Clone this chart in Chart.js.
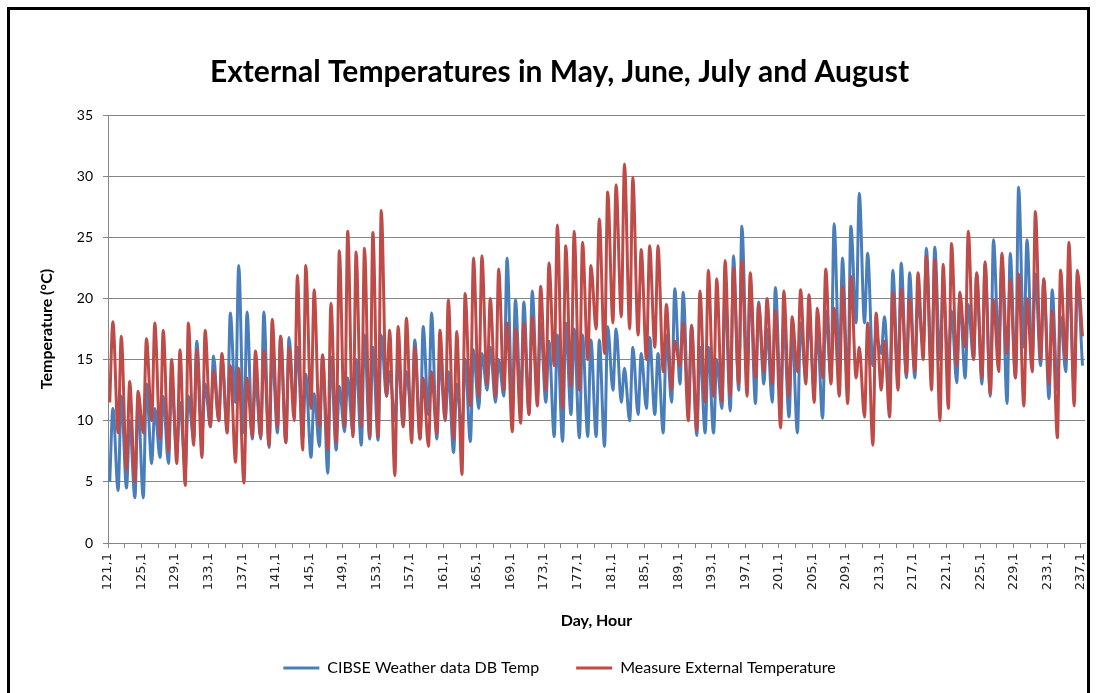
<!DOCTYPE html>
<html><head><meta charset="utf-8">
<script src="https://cdn.jsdelivr.net/npm/chart.js@4.4.1/dist/chart.umd.min.js"></script>
<style>
html,body{margin:0;padding:0;background:#fff;width:1101px;height:693px;overflow:hidden;}
#frame{position:absolute;left:7px;top:7px;width:1083px;height:800px;border:3px solid #000;box-sizing:border-box;}
#wrap{position:absolute;left:0;top:0;width:1101px;height:693px;}
</style></head><body>
<div id="frame"></div>
<div id="wrap"><canvas id="c" width="1101" height="693"></canvas></div>
<script>
// Day numbers (one min and one max reading per day)
const days = [121,122,123,124,125,126,127,128,129,130,131,132,133,134,135,136,137,138,139,140,
141,142,143,144,145,146,147,148,149,150,151,152,153,154,155,156,157,158,159,160,
161,162,163,164,165,166,167,168,169,170,171,172,173,174,175,176,177,178,179,180,
181,182,183,184,185,186,187,188,189,190,191,192,193,194,195,196,197,198,199,200,
201,202,203,204,205,206,207,208,209,210,211,212,213,214,215,216,217,218,219,220,
221,222,223,224,225,226,227,228,229,230,231,232,233,234,235,236];
const minHour = 5;   // hour of the daily minimum
const maxHour = 14;  // hour of the daily maximum

// Measured external temperature (red)
const redMin = [11.5,9.0,6.0,5.0,9.0,10.0,8.5,7.5,6.5,4.7,
8.0,7.0,9.5,10.0,9.0,6.6,4.9,8.7,8.7,8.0,
9.5,8.2,10.0,7.6,11.0,9.5,7.6,8.2,9.5,8.7,
9.5,8.7,8.7,12.0,5.5,9.5,8.2,8.5,7.9,8.9,
10.1,8.5,5.6,11.2,12.0,13.0,12.0,12.5,9.1,9.8,
10.5,11.2,12.5,14.5,11.0,12.8,12.5,15.0,17.5,15.5,
18.0,18.5,17.5,17.0,15.0,16.0,14.0,12.5,14.5,10.0,
9.2,11.5,12.0,11.5,12.0,13.0,12.0,13.5,14.0,13.0,
9.4,12.0,14.0,13.0,11.5,13.5,13.0,12.0,11.4,13.5,
10.3,8.0,12.5,10.3,12.5,13.8,14.0,15.0,12.5,10.0,
11.0,14.5,16.0,15.0,13.5,12.2,14.0,15.5,13.5,11.2,
14.0,15.0,13.0,8.6,15.0,11.2];
const redMax = [18.1,16.9,13.2,12.4,16.7,18.0,17.4,15.0,15.8,18.0,
15.8,17.4,14.1,15.5,14.5,14.3,13.5,15.7,15.7,18.3,
16.9,16.0,21.9,22.7,20.7,15.4,19.6,23.9,25.5,23.8,
24.1,25.4,27.2,17.4,17.7,18.4,16.0,13.5,14.0,17.4,
19.9,17.3,20.4,23.3,23.5,20.0,22.4,18.0,17.5,18.0,
18.5,21.0,22.9,26.0,24.3,25.5,24.6,22.7,26.5,28.7,
29.3,31.0,29.9,24.0,24.3,24.3,19.5,16.5,18.0,17.8,
20.6,22.3,21.6,23.1,22.5,23.1,22.1,19.5,20.0,19.0,
20.6,18.5,20.7,20.3,19.2,22.4,19.2,21.0,21.8,16.0,
18.0,18.8,16.5,20.5,20.8,20.0,22.1,23.5,23.2,22.8,
24.5,20.5,25.5,22.1,23.0,19.9,23.7,21.5,22.0,20.0,
27.1,21.6,19.0,22.3,24.6,22.3];

// CIBSE weather data DB temperature (blue)
const blueMin = [5.0,4.3,4.5,3.7,3.7,6.5,7.0,6.5,7.5,6.0,
8.5,9.0,9.5,10.0,9.3,11.5,9.0,8.5,8.5,7.8,
9.0,8.2,10.9,8.5,7.0,7.9,5.7,7.6,9.1,9.0,
8.0,8.5,8.4,12.0,10.0,9.5,10.5,8.5,10.5,8.5,
10.0,7.4,9.0,8.3,11.0,12.5,11.5,12.0,11.0,11.5,
10.5,12.0,11.5,8.7,8.3,10.5,8.6,8.7,8.7,7.9,
12.5,11.5,10.0,10.5,11.0,10.5,9.0,11.5,13.0,11.0,
8.8,9.0,9.0,11.0,10.8,12.5,14.0,11.4,13.0,11.5,
12.0,10.3,9.0,13.5,12.5,10.2,13.5,14.5,12.5,18.0,
18.0,14.5,15.5,12.0,13.5,13.5,13.5,16.0,14.0,15.0,
14.5,13.1,13.5,15.0,13.0,12.0,16.1,11.4,13.5,16.0,
15.0,14.5,11.8,12.5,14.0,12.8];
const blueMax = [11.0,12.0,10.0,11.5,13.0,11.0,12.0,13.0,11.5,12.0,
16.5,13.0,15.3,15.2,18.8,22.7,18.9,13.5,18.9,15.7,
16.9,16.8,16.0,13.8,12.2,15.3,15.2,12.8,13.5,15.0,
17.0,16.0,17.0,14.0,15.0,14.0,16.6,17.7,18.8,15.0,
14.0,13.0,15.0,15.8,15.5,16.0,15.0,23.3,19.9,19.7,
20.6,18.0,16.5,17.0,18.0,17.5,17.0,16.6,16.6,17.7,
17.5,14.3,16.0,15.5,16.8,15.5,17.0,20.8,20.5,17.7,
16.0,16.0,15.0,20.5,23.5,25.9,21.0,19.7,17.5,20.9,
18.0,17.5,18.0,18.5,17.5,19.0,26.1,23.3,25.9,28.6,
23.7,17.0,18.5,22.3,22.9,22.1,20.0,24.1,24.2,21.0,
19.0,20.0,19.5,22.0,22.8,24.8,23.0,23.7,29.1,24.8,
22.0,21.5,20.7,18.5,22.0,21.5];

// Last readings (day 237, early hours)
const lastX = 237.2;
const lastRed = 16.9;
const lastBlue = 14.5;

// Category (tick) labels on the day axis
const xTickLabels = ['121,1','125,1','129,1','133,1','137,1','141,1','145,1','149,1','153,1','157,1',
'161,1','165,1','169,1','173,1','177,1','181,1','185,1','189,1','193,1','197,1','201,1','205,1',
'209,1','213,1','217,1','221,1','225,1','229,1','233,1','237,1'];
const yTicks = [0,5,10,15,20,25,30,35];

function buildPts(mins, maxs, lx, ly) {
  const pts = [];
  days.forEach((d, i) => {
    pts.push({x: d + minHour / 24, y: mins[i]});
    pts.push({x: d + maxHour / 24, y: maxs[i]});
  });
  pts.push({x: lx, y: ly});
  return pts;
}
const bluePts = buildPts(blueMin, blueMax, lastX, lastBlue);
const redPts = buildPts(redMin, redMax, lastX, lastRed);

const labelDays = xTickLabels.map(l => parseInt(l, 10));
const tickDays = [];
labelDays.forEach((d, i) => { tickDays.push(d); if (i < labelDays.length - 1) tickDays.push(d + 2); });

const xLabelPlugin = {
  id: 'xlabels',
  afterDraw(chart) {
    const s = chart.scales.x, c = chart.ctx;
    c.save();
    c.font = '13px "DejaVu Sans"';
    c.fillStyle = '#262626';
    c.textAlign = 'right';
    c.textBaseline = 'middle';
    xTickLabels.forEach(l => {
      const x = s.getPixelForValue(parseInt(l, 10));
      c.save();
      c.translate(x, s.top + 10);
      c.rotate(-Math.PI / 2);
      c.fillText(l, 0, 0);
      c.restore();
    });
    c.restore();
  }
};

const GRID = '#868686';
new Chart(document.getElementById('c'), {
  type: 'line',
  data: {
    datasets: [
      {label: 'CIBSE Weather data DB Temp', data: bluePts, borderColor: '#4A7EBB', backgroundColor: '#4A7EBB',
       borderWidth: 3, pointRadius: 0, cubicInterpolationMode: 'monotone', order: 1},
      {label: 'Measure External Temperature', data: redPts, borderColor: '#BE4B48', backgroundColor: '#BE4B48',
       borderWidth: 3, pointRadius: 0, cubicInterpolationMode: 'monotone', order: 0}
    ]
  },
  options: {
    responsive: false,
    animation: false,
    layout: {padding: {left: 34, right: 16, top: 0, bottom: 7}},
    plugins: {
      title: {display: true, text: 'External Temperatures in May, June, July and August',
        font: {family: 'Lato', size: 30, weight: 'bold'}, color: '#000', padding: {top: 54, bottom: 25}},
      legend: {position: 'bottom',
        labels: {usePointStyle: true, pointStyle: 'line', pointStyleWidth: 36, padding: 37, color: '#000',
          font: {family: 'Lato', size: 16}, sort: (a, b) => a.datasetIndex - b.datasetIndex}},
      tooltip: {enabled: false}
    },
    scales: {
      x: {type: 'linear', min: 121, max: 237.5,
        afterFit: s => { s.height = 80; },
        afterBuildTicks: s => { s.ticks = tickDays.map(v => ({value: v})); },
        ticks: {display: false, autoSkip: false},
        grid: {drawOnChartArea: false, drawTicks: true, tickLength: 5, color: GRID},
        border: {color: GRID},
        title: {display: true, text: 'Day, Hour', font: {family: 'Lato', size: 16, weight: 'bold'}, color: '#000',
          padding: {top: 0, bottom: -7}}},
      y: {min: 0, max: 35,
        afterFit: s => { s.width = 74; },
        afterBuildTicks: s => { s.ticks = yTicks.map(v => ({value: v})); },
        ticks: {padding: 10, color: '#000', font: {family: 'Lato', size: 14}},
        grid: {color: GRID, tickLength: 5},
        border: {color: GRID},
        title: {display: true, text: 'Temperature (°C)', font: {family: 'Lato', size: 16, weight: 'bold'}, color: '#000',
          padding: {top: 3, bottom: 0}}}
    }
  },
  plugins: [xLabelPlugin]
});
</script>
</body></html>
